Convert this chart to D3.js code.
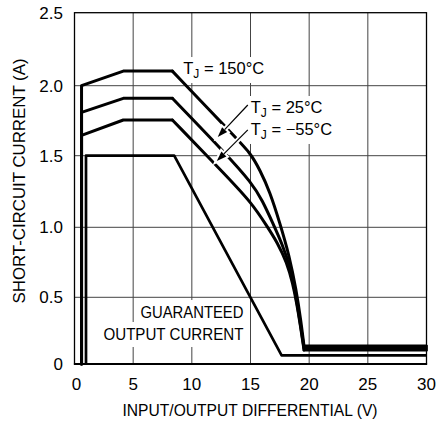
<!DOCTYPE html>
<html>
<head>
<meta charset="utf-8">
<script src="https://cdn.jsdelivr.net/npm/d3@7"></script>
<style>
  body { margin: 0; background: #fff; }
  svg { display: block; font-family: "Liberation Sans", Arial, Helvetica, sans-serif; }
</style>
</head>
<body>
<div id="chart"></div>
<script>
const xTicks = [0, 5, 10, 15, 20, 25, 30]
const yTicks = [0, 0.5, 1.0, 1.5, 2.0, 2.5]
const yTickLabels = ["0", "0.5", "1.0", "1.5", "2.0", "2.5"]

// [V, A]
const tj150 = [[0.6, 0], [0.6, 2.0], [4.16, 2.1], [8.34, 2.1], [13.5, 1.65], [15.0, 1.52], [15.8, 1.40], [16.65, 1.25],
    [17.5, 1.03], [18.3, 0.8], [18.9, 0.55], [19.3, 0.32], [19.56, 0.135], [30, 0.135]]
const tj25 = [[0.6, 0], [0.6, 1.81], [4.16, 1.91], [8.34, 1.91], [13.0, 1.505], [15.1, 1.31], [16.0, 1.19],
    [16.95, 1.02], [17.7, 0.88], [18.37, 0.72], [18.85, 0.52], [19.25, 0.3], [19.56, 0.12], [30, 0.12]]
const tjm55 = [[0.6, 0], [0.6, 1.645], [4.16, 1.755], [8.34, 1.755], [13.0, 1.355], [15.1, 1.17], [16.39, 1.01],
    [17.3, 0.89], [18.09, 0.75], [18.6, 0.6], [18.95, 0.45], [19.25, 0.29], [19.56, 0.105], [30, 0.105]]
const guaranteed = [[0.98, 0], [0.98, 1.5], [8.5, 1.5], [17.65, 0.065], [30, 0.065]]

const curveLabels = ["150°C", "25°C", "−55°C"]

const W = 437, H = 423
const x = d3.scaleLinear().domain([0, 30]).range([74.5, 426.5])
// grid on the original is a little uneven, so one range stop per tick
const y = d3.scaleLinear().domain(yTicks).range([364, 297.3, 227.3, 155.7, 85.7, 12.7])

const svg = d3.select("#chart").append("svg")
    .attr("width", W)
    .attr("height", H)

const gGrid = svg.append("g")
const gBoxes = svg.append("g")
const gCurves = svg.append("g")
const gText = svg.append("g")
const gArrows = svg.append("g")

// grid
gGrid.selectAll(".vgrid")
    .data(xTicks.slice(1, -1))
    .enter().append("line")
    .attr("x1", d => x(d)).attr("x2", d => x(d))
    .attr("y1", y(2.5)).attr("y2", y(0))
    .attr("stroke", "#444").attr("stroke-width", 1)
gGrid.selectAll(".hgrid")
    .data(yTicks.slice(1, -1))
    .enter().append("line")
    .attr("x1", x(0)).attr("x2", x(30))
    .attr("y1", d => y(d)).attr("y2", d => y(d))
    .attr("stroke", "#444").attr("stroke-width", 1)
gGrid.append("rect")
    .attr("x", x(0)).attr("y", y(2.5))
    .attr("width", x(30) - x(0)).attr("height", y(0) - y(2.5))
    .attr("fill", "none").attr("stroke", "#000").attr("stroke-width", 1.3)
gGrid.append("line")
    .attr("x1", x(0) - 0.6).attr("x2", x(30) + 0.6)
    .attr("y1", y(0)).attr("y2", y(0))
    .attr("stroke", "#000").attr("stroke-width", 2)

// tick labels
svg.append("g").selectAll("text")
    .data(xTicks)
    .enter().append("text")
    .attr("x", d => x(d) + (d === 0 ? 2 : 0))
    .attr("y", 390)
    .attr("text-anchor", "middle")
    .attr("font-size", 17)
    .text(d => d)
svg.append("g").selectAll("text")
    .data(yTicks)
    .enter().append("text")
    .attr("x", 63)
    .attr("y", d => y(d))
    .attr("dy", "0.35em")
    .attr("text-anchor", "end")
    .attr("font-size", 17)
    .text((d, i) => yTickLabels[i])

// axis titles
svg.append("text")
    .attr("x", 250).attr("y", 416)
    .attr("text-anchor", "middle")
    .attr("font-size", 17)
    .attr("textLength", 255).attr("lengthAdjust", "spacingAndGlyphs")
    .text("INPUT/OUTPUT DIFFERENTIAL (V)")
svg.append("text")
    .attr("transform", "translate(25,181) rotate(-90)")
    .attr("text-anchor", "middle")
    .attr("font-size", 17)
    .attr("textLength", 245).attr("lengthAdjust", "spacingAndGlyphs")
    .text("SHORT-CIRCUIT CURRENT (A)")

// curves: straight start, smoothed bend, straight tail
const lin = d3.line().x(d => x(d[0])).y(d => y(d[1]))
const bend = d3.line().x(d => x(d[0])).y(d => y(d[1])).curve(d3.curveBasis)

const drawCurve = (pts, w) => {
    const n = pts.length
    const parts = [[pts.slice(0, 4), lin], [pts.slice(3, n - 1), bend], [pts.slice(n - 2), lin]]
    parts.forEach(([p, gen]) => {
        gCurves.append("path")
            .attr("d", gen(p))
            .attr("fill", "none")
            .attr("stroke", "#000")
            .attr("stroke-width", w)
            .attr("stroke-linejoin", "round")
            .attr("stroke-linecap", "round")
    })
}
drawCurve(tj150, 3)
drawCurve(tj25, 3)
drawCurve(tjm55, 3)

gCurves.append("path")
    .attr("d", lin(guaranteed))
    .attr("fill", "none")
    .attr("stroke", "#000")
    .attr("stroke-width", 2.7)
    .attr("stroke-linejoin", "round")

// labels with white backing
const boxed = (sel, pad) => {
    const b = sel.node().getBBox()
    gBoxes.append("rect")
        .attr("x", b.x - pad).attr("y", b.y - pad)
        .attr("width", b.width + 2 * pad).attr("height", b.height + 2 * pad)
        .attr("fill", "#fff")
}

const tjLabel = (vx, ay, temp) => {
    const t = gText.append("text")
        .attr("x", x(vx)).attr("y", y(ay))
        .attr("font-size", 16.5)
    t.append("tspan").text("T")
    t.append("tspan").attr("font-size", 12).attr("dy", 4).text("J")
    t.append("tspan").attr("dy", -4).text(" = " + temp)
    boxed(t, 2)
}
tjLabel(9.27, 2.08, curveLabels[0])
tjLabel(15.02, 1.805, curveLabels[1])
tjLabel(15.02, 1.648, curveLabels[2])

const g1 = gText.append("text")
    .attr("x", x(14.4)).attr("y", y(0.345))
    .attr("text-anchor", "end").attr("font-size", 17)
    .attr("textLength", 103).attr("lengthAdjust", "spacingAndGlyphs")
    .text("GUARANTEED")
const g2 = gText.append("text")
    .attr("x", x(14.4)).attr("y", y(0.18))
    .attr("text-anchor", "end").attr("font-size", 17)
    .attr("textLength", 140).attr("lengthAdjust", "spacingAndGlyphs")
    .text("OUTPUT CURRENT")
boxed(g1, 3)
boxed(g2, 3)

// arrows from labels to curves
const arrows = [[[14.77, 1.862], [12.21, 1.634]], [[14.77, 1.684], [12.13, 1.463]]]
arrows.forEach(([from, to]) => {
    const x0 = x(from[0]), y0 = y(from[1]), x1 = x(to[0]), y1 = y(to[1])
    const ang = Math.atan2(y1 - y0, x1 - x0)
    const len = 10, hw = 3.5
    const bx = x1 - len * Math.cos(ang), by = y1 - len * Math.sin(ang)
    const head = [[x1, y1],
        [bx + hw * Math.sin(ang), by - hw * Math.cos(ang)],
        [bx - hw * Math.sin(ang), by + hw * Math.cos(ang)]]
    const headD = "M" + head.map(p => p.join(",")).join("L") + "Z"
    gArrows.append("line")
        .attr("x1", x0).attr("y1", y0).attr("x2", bx).attr("y2", by)
        .attr("stroke", "#fff").attr("stroke-width", 5)
    gArrows.append("path").attr("d", headD)
        .attr("fill", "#fff").attr("stroke", "#fff").attr("stroke-width", 4)
    gArrows.append("line")
        .attr("x1", x0).attr("y1", y0).attr("x2", bx).attr("y2", by)
        .attr("stroke", "#000").attr("stroke-width", 1.2)
    gArrows.append("path").attr("d", headD).attr("fill", "#000")
})
</script>
</body>
</html>
